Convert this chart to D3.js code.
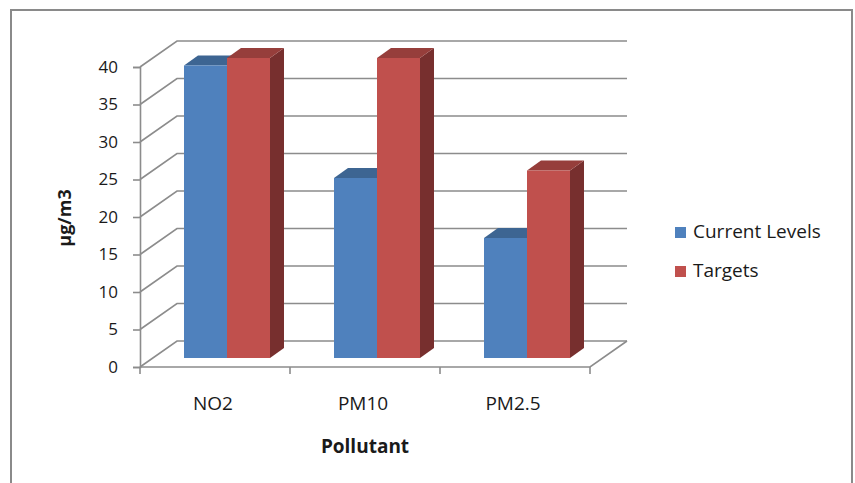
<!DOCTYPE html>
<html>
<head>
<meta charset="utf-8">
<script src="https://cdn.jsdelivr.net/npm/d3@7"></script>
<style>
  html, body { margin: 0; padding: 0; background: #fff; }
  svg { display: block; font-family: "Open Sans", sans-serif; }
</style>
</head>
<body>
<svg id="chart" width="855" height="483"></svg>
<script>
const categories = ["NO2", "PM10", "PM2.5"];
const seriesNames = ["Current Levels", "Targets"];
const currentLevels = [39, 24, 16];
const targets = [40, 40, 25];
const yTicks = [0, 5, 10, 15, 20, 25, 30, 35, 40];

const svg = d3.select("#chart");
const colors = {
  front: ["#4F81BD", "#C0504D"],
  top: ["#3D6592", "#963E3B"],
  side: ["#375D8A", "#772F2E"]
};
const grid = "#8c8c8c";
const ink = "#1a1a1a";

// frame
svg.append("rect").attr("x", 11).attr("y", 10).attr("width", 841).attr("height", 490)
  .attr("fill", "none").attr("stroke", "#8a8a8a").attr("stroke-width", 2);

const x = d3.scaleBand().domain(categories).range([140, 590]);
const y = d3.scaleLinear().domain([0, 40]).range([367, 67]);
const wall = { dx: 37, dy: -26 };
const barOff = { dx: 12, dy: -9 };
const depth = { dx: 14, dy: -10 };
const barW = 43;
const backRight = 627;

const g = svg.append("g");
yTicks.forEach(v => {
  const y0 = y(v);
  g.append("path")
    .attr("d", `M${x.range()[0]},${y0}L${x.range()[0] + wall.dx},${y0 + wall.dy}L${backRight},${y0 + wall.dy}`)
    .attr("fill", "none").attr("stroke", grid).attr("stroke-width", 1.6);
});
g.append("path")
  .attr("d", `M${x.range()[0]},${y(0)}L${x.range()[1]},${y(0)}L${x.range()[1] + wall.dx},${y(0) + wall.dy}`)
  .attr("fill", "none").attr("stroke", grid).attr("stroke-width", 1.6);

// y axis
const yAxis = d3.axisLeft(y).tickValues(yTicks).tickSize(7).tickPadding(15);
const ya = svg.append("g").attr("transform", `translate(${x.range()[0]},0)`).call(yAxis);
ya.select(".domain").attr("stroke", grid).attr("stroke-width", 1.6);
ya.selectAll(".tick line").attr("stroke", grid).attr("stroke-width", 1.6);
ya.selectAll(".tick text").attr("font-size", 17).attr("fill", ink)
  .attr("font-family", "'Open Sans', sans-serif");

// x axis: boundary ticks + labels
const bounds = categories.map(c => x(c)).concat([x.range()[1]]);
svg.selectAll(".xtick").data(bounds).enter().append("line")
  .attr("x1", d => d).attr("x2", d => d).attr("y1", y(0)).attr("y2", y(0) + 7)
  .attr("stroke", grid).attr("stroke-width", 1.6);
svg.selectAll(".xlab").data(categories).enter().append("text")
  .attr("x", d => x(d) + x.bandwidth() / 2 - 2).attr("y", 410)
  .attr("text-anchor", "middle").attr("font-size", 19).attr("fill", ink)
  .text(d => d);

// bars
const series = [currentLevels, targets];
categories.forEach((c, i) => {
  const cx = x(c) + x.bandwidth() / 2 + barOff.dx;
  series.forEach((vals, s) => {
    const x0 = cx - barW + s * barW;
    const x1 = x0 + barW;
    const yb = y(0) + barOff.dy;
    const yt = y(vals[i]) + barOff.dy;
    const bg = svg.append("g");
    bg.append("path")
      .attr("d", `M${x1},${yb}L${x1 + depth.dx},${yb + depth.dy}L${x1 + depth.dx},${yt + depth.dy}L${x1},${yt}Z`)
      .attr("fill", colors.side[s]);
    bg.append("path")
      .attr("d", `M${x0},${yt}L${x0 + depth.dx},${yt + depth.dy}L${x1 + depth.dx},${yt + depth.dy}L${x1},${yt}Z`)
      .attr("fill", colors.top[s]);
    bg.append("rect").attr("x", x0).attr("y", yt).attr("width", barW).attr("height", yb - yt)
      .attr("fill", colors.front[s]);
  });
});

// axis titles
svg.append("text").attr("transform", "translate(71,218) rotate(-90)")
  .attr("text-anchor", "middle").attr("font-size", 18).attr("font-weight", "bold")
  .attr("fill", ink).text("µg/m3");
svg.append("text").attr("x", 365).attr("y", 453).attr("text-anchor", "middle")
  .attr("font-size", 19).attr("font-weight", "bold").attr("fill", ink).text("Pollutant");

// legend
const leg = svg.append("g");
seriesNames.forEach((n, s) => {
  const ly = 227 + s * 39;
  leg.append("rect").attr("x", 675).attr("y", ly).attr("width", 11).attr("height", 11)
    .attr("fill", colors.front[s]);
  leg.append("text").attr("x", 693).attr("y", ly + 11).attr("font-size", 19)
    .attr("fill", ink).text(n);
});
</script>
</body>
</html>
